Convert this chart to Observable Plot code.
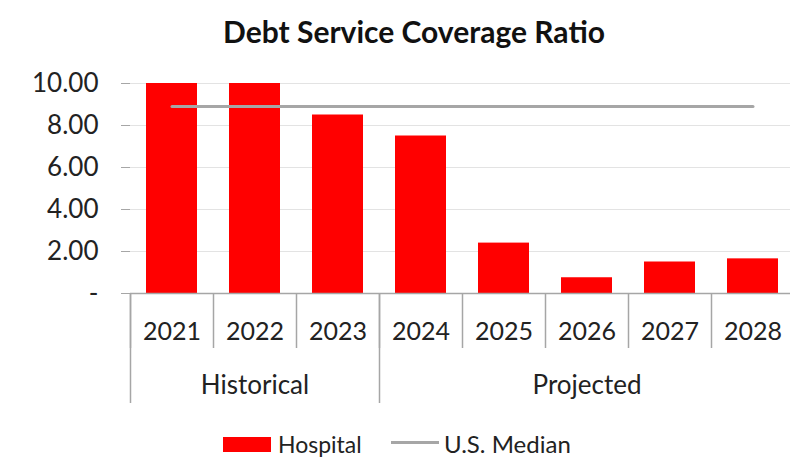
<!DOCTYPE html>
<html><head><meta charset="utf-8">
<script src="https://cdn.jsdelivr.net/npm/d3@7"></script>
<script src="https://cdn.jsdelivr.net/npm/@observablehq/plot@0.6"></script>
<style>
body{margin:0;background:#fff;font-family:Lato,"Open Sans",sans-serif;}
#wrap{width:790px;height:458px;position:relative;overflow:hidden;background:#fff}
#title{position:absolute;left:38px;top:1px;width:752px;height:60px;line-height:60px;text-align:center;font-weight:bold;font-size:30px;color:#111}
#chart{position:absolute;left:0;top:60px}
.lg{position:absolute;font-size:23px;color:#222;line-height:28px}
</style></head><body>
<div id="wrap">
<div id="title">Debt Service Coverage Ratio</div>
<div id="chart"></div>
<div class="lg" style="left:223px;top:437px;width:48px;height:15px;background:#ff0000"></div>
<div class="lg" id="l1" style="left:278px;top:430px"></div>
<div class="lg" style="left:391px;top:441px;width:48px;height:3px;background:#a6a6a6"></div>
<div class="lg" id="l2" style="left:444px;top:430px;font-size:24px"></div>
</div>
<script>
const years = ["2021","2022","2023","2024","2025","2026","2027","2028"];
const hospital = [10, 10, 8.5, 7.5, 2.4, 0.75, 1.5, 1.65];
const usMedian = [8.9, 8.9, 8.9, 8.9, 8.9, 8.9, 8.9, 8.9];
const yTicks = [0, 2, 4, 6, 8, 10];
const groups = ["Historical", "Projected"];
const groupStarts = ["2021", "2024"];
const groupCenters = ["2022", "2026"];
const seriesNames = ["Hospital", "U.S. Median"];

document.getElementById("l1").textContent = seriesNames[0];
document.getElementById("l2").textContent = seriesNames[1];

const data = years.map((y, i) => ({year: y, hospital: hospital[i], median: usMedian[i]}));
const axisGray = "#a6a6a6";
const txt = "#222";
const half = -41.5;

const plot = Plot.plot({
  width: 790, height: 355,
  marginTop: 23, marginBottom: 122, marginLeft: 130, marginRight: -4,
  style: {fontFamily: "Lato, sans-serif", fontSize: "25px", color: txt, background: "transparent", overflow: "visible"},
  x: {type: "band", domain: years, padding: 0},
  y: {domain: [0, 10]},
  marks: [
    Plot.gridY({ticks: yTicks, stroke: "#e3e3e3", strokeOpacity: 1}),
    Plot.barY(data, {x: "year", y: "hospital", fill: "#ff0000", insetLeft: 16, insetRight: 16}),
    Plot.lineY(data, {x: "year", y: "median", stroke: "#a6a6a6", strokeWidth: 3}),
    Plot.ruleY([0], {stroke: axisGray, strokeWidth: 1.5}),
    Plot.axisY({ticks: yTicks, tickSize: 9, tickPadding: 23, line: true, stroke: axisGray, fill: txt, label: null,
      tickFormat: d => d === 0 ? "-" : d.toFixed(2), fontSize: 26}),
    Plot.axisX({ticks: years, tickSize: 0, tickPadding: 29, fill: txt, fontSize: 25, label: null}),
    Plot.axisX({ticks: years, tickSize: 55, dx: half, stroke: axisGray, strokeWidth: 1.5, tickFormat: () => "", label: null}),
    Plot.axisX({ticks: groupStarts, tickSize: 110, dx: half, stroke: axisGray, strokeWidth: 1.5, tickFormat: () => "", label: null}),
    Plot.axisX({ticks: groupCenters, tickSize: 0, tickPadding: 82, fill: txt, fontSize: 26, label: null,
      tickFormat: d => groups[groupCenters.indexOf(d)]})
  ]
});
document.getElementById("chart").appendChild(plot);
</script>
</body></html>
